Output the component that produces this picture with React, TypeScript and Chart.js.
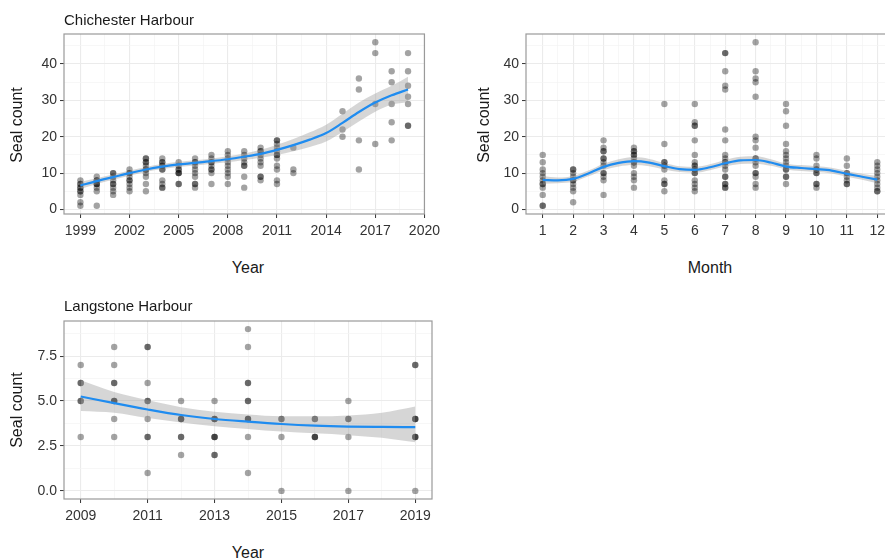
import React, { useEffect, useRef } from "react";
import { Chart, registerables } from "chart.js";
Chart.register(...registerables);

const FONT = "'Liberation Sans', Arial, Helvetica, sans-serif";

// ---------- Chichester Harbour by year ----------
const chiYears = [1999, 2000, 2001, 2002, 2003, 2004, 2005, 2006, 2007, 2008, 2009, 2010, 2011, 2012, 2015, 2016, 2017, 2018, 2019];
const chiCounts = [
  [1, 2, 4, 5, 5, 6, 6, 7, 7, 8],
  [1, 5, 6, 7, 7, 7, 8, 8, 9],
  [4, 5, 6, 7, 7, 8, 9, 10, 10],
  [5, 6, 7, 8, 8, 9, 10, 10, 11],
  [5, 7, 9, 10, 11, 11, 12, 13, 13, 14, 14],
  [6, 6, 7, 8, 11, 11, 12, 12, 13, 13, 14],
  [7, 7, 10, 10, 10, 11, 11, 12, 13],
  [6, 7, 7, 9, 10, 11, 12, 13, 13, 14],
  [7, 10, 11, 11, 12, 13, 13, 14, 15],
  [7, 9, 10, 11, 12, 13, 14, 15, 16],
  [6, 9, 12, 12, 13, 14, 15, 16],
  [8, 9, 9, 12, 13, 14, 15, 16, 16, 17],
  [7, 8, 11, 12, 14, 15, 15, 16, 17, 18, 19, 19],
  [10, 11, 17],
  [20, 22, 27],
  [11, 19, 33, 36],
  [18, 29, 43, 46],
  [19, 24, 29, 35, 38],
  [23, 23, 29, 31, 34, 38, 43],
];
const chiFitX = [1999, 2000, 2001, 2002, 2003, 2004, 2005, 2006, 2007, 2008, 2009, 2010, 2011, 2012, 2013, 2014, 2015, 2016, 2017, 2018, 2019];
const chiFit = [6.6, 7.8, 8.9, 10.0, 11.0, 11.8, 12.4, 12.8, 13.3, 13.8, 14.5, 15.3, 16.4, 17.7, 19.2, 21.0, 23.8, 26.8, 29.4, 31.4, 33.0];
const chiFitLo = [5.6, 7.0, 8.2, 9.3, 10.3, 11.1, 11.7, 12.1, 12.6, 13.0, 13.6, 14.2, 15.0, 16.0, 17.2, 18.7, 21.3, 24.2, 26.9, 28.8, 29.5];
const chiFitHi = [7.6, 8.6, 9.6, 10.7, 11.7, 12.5, 13.1, 13.5, 14.0, 14.6, 15.4, 16.4, 17.8, 19.4, 21.2, 23.3, 26.3, 29.4, 31.9, 34.0, 36.5];
const chiXTicks = [1999, 2002, 2005, 2008, 2011, 2014, 2017, 2020];
const chiXMinor = [2000.5, 2003.5, 2006.5, 2009.5, 2012.5, 2015.5, 2018.5];
const countTicks = [0, 10, 20, 30, 40];
const countMinor = [5, 15, 25, 35, 45];

// ---------- By month ----------
const months = [1, 2, 3, 4, 5, 6, 7, 8, 9, 10, 11, 12];
const monthCounts = [
  [1, 1, 4, 6, 7, 7, 8, 9, 10, 11, 13, 15],
  [2, 5, 6, 7, 8, 8, 9, 10, 11, 11],
  [4, 8, 9, 10, 10, 12, 13, 14, 14, 16, 16, 17, 19],
  [6, 8, 9, 10, 12, 13, 13, 14, 15, 15, 16, 16, 17],
  [5, 7, 7, 8, 11, 12, 12, 13, 13, 18, 29],
  [5, 6, 7, 8, 10, 10, 11, 11, 12, 12, 13, 15, 19, 23, 23, 24, 29],
  [6, 6, 7, 7, 9, 9, 11, 12, 13, 13, 14, 15, 19, 22, 33, 34, 38, 43, 43],
  [6, 7, 9, 10, 10, 12, 13, 14, 14, 17, 19, 20, 31, 35, 36, 38, 46],
  [7, 9, 9, 11, 11, 12, 13, 14, 15, 16, 18, 23, 27, 29],
  [6, 7, 7, 10, 10, 11, 11, 12, 14, 15],
  [7, 7, 8, 9, 10, 10, 12, 14],
  [5, 5, 6, 7, 8, 9, 10, 11, 12, 13],
];
const monthFitX = [1, 1.5, 2, 2.5, 3, 3.5, 4, 4.5, 5, 5.5, 6, 6.5, 7, 7.5, 8, 8.5, 9, 9.5, 10, 10.5, 11, 11.5, 12];
const monthFit = [8.1, 8.0, 8.4, 9.9, 11.7, 12.8, 13.3, 12.9, 11.9, 11.1, 10.9, 11.6, 12.7, 13.5, 13.6, 12.9, 11.8, 11.4, 11.1, 10.7, 9.8, 9.0, 8.2];
const monthFitLo = [7.1, 7.2, 7.6, 9.1, 10.8, 11.8, 12.2, 11.9, 11.0, 10.3, 10.1, 10.8, 11.8, 12.5, 12.6, 12.0, 11.0, 10.6, 10.3, 9.9, 9.0, 8.2, 7.2];
const monthFitHi = [9.1, 8.8, 9.2, 10.7, 12.6, 13.8, 14.4, 13.9, 12.8, 11.9, 11.7, 12.4, 13.6, 14.5, 14.6, 13.8, 12.6, 12.2, 11.9, 11.5, 10.6, 9.8, 9.2];
const monthMinor = [1.5, 2.5, 3.5, 4.5, 5.5, 6.5, 7.5, 8.5, 9.5, 10.5, 11.5, 12.5];

// ---------- Langstone Harbour by year ----------
const lanYears = [2009, 2010, 2011, 2012, 2013, 2014, 2015, 2016, 2017, 2019];
const lanCounts = [
  [3, 5, 5, 6, 6, 7],
  [3, 4, 5, 5, 5, 6, 6, 7, 8],
  [1, 3, 3, 4, 5, 5, 6, 8, 8],
  [2, 3, 3, 4, 4, 4, 5],
  [2, 2, 3, 3, 3, 4, 4, 4, 5],
  [1, 3, 4, 4, 4, 5, 5, 6, 6, 8, 9],
  [0, 3, 4, 4],
  [3, 3, 3, 4, 4],
  [0, 3, 4, 4, 5],
  [0, 3, 3, 3, 4, 4, 4, 7, 7],
];
const lanFitX = [2009, 2010, 2011, 2012, 2013, 2014, 2015, 2016, 2017, 2018, 2019];
const lanFit = [5.25, 4.88, 4.53, 4.22, 4.0, 3.85, 3.72, 3.63, 3.58, 3.56, 3.55];
const lanFitLo = [4.45, 4.35, 4.05, 3.8, 3.6, 3.45, 3.3, 3.2, 3.1, 2.95, 2.7];
const lanFitHi = [6.15, 5.5, 5.05, 4.65, 4.4, 4.25, 4.15, 4.15, 4.2, 4.35, 4.7];
const lanXTicks = [2009, 2011, 2013, 2015, 2017, 2019];
const lanXMinor = [2010, 2012, 2014, 2016, 2018];
const lanYTicks = [0, 2.5, 5, 7.5];
const lanYMinor = [1.25, 3.75, 6.25, 8.75];

type Panel = {
  xs: number[];
  counts: number[][];
  fitX: number[];
  fit: number[];
  lo: number[];
  hi: number[];
  xMin: number;
  xMax: number;
  yMin: number;
  yMax: number;
  xMajor: number[];
  xMinor: number[];
  yMajor: number[];
  yMinor: number[];
  yFmt: (v: number) => string;
  padTop: number;
  padRight: number;
  yw: number;
  xh: number;
};

const isIn = (arr: number[], v: number) => arr.some((a) => Math.abs(a - v) < 1e-6);

const borderPlugin = {
  id: "panelBorder",
  afterDatasetsDraw(chart: any) {
    const { ctx, chartArea } = chart;
    ctx.save();
    ctx.strokeStyle = "#9a9a9a";
    ctx.lineWidth = 1.2;
    ctx.strokeRect(chartArea.left, chartArea.top, chartArea.right - chartArea.left, chartArea.bottom - chartArea.top);
    ctx.restore();
  },
};

function axisOpts(min: number, max: number, major: number[], minor: number[], fmt: (v: number) => string, fit: (s: any) => void, pad: number) {
  const all = [...major, ...minor].filter((v) => v >= min && v <= max).sort((a, b) => a - b);
  return {
    type: "linear",
    min,
    max,
    afterBuildTicks: (scale: any) => {
      scale.ticks = all.map((v) => ({ value: v }));
    },
    afterFit: fit,
    border: { display: false },
    grid: {
      color: (c: any) => (c.tick && isIn(major, c.tick.value) ? "#ebebeb" : "#f4f4f4"),
      lineWidth: (c: any) => (c.tick && isIn(major, c.tick.value) ? 1.1 : 0.7),
      tickColor: (c: any) => (c.tick && isIn(major, c.tick.value) ? "#333333" : "rgba(0,0,0,0)"),
      tickLength: 4,
      tickWidth: 1,
      drawTicks: true,
    },
    ticks: {
      autoSkip: false,
      maxRotation: 0,
      minRotation: 0,
      padding: pad,
      color: "#333333",
      font: { family: FONT, size: 14 },
      callback: (v: number) => (isIn(major, v) ? fmt(v) : ""),
    },
  };
}

function makeChart(canvas: HTMLCanvasElement, p: Panel) {
  const pts: { x: number; y: number }[] = [];
  p.xs.forEach((x, i) => p.counts[i].forEach((y) => pts.push({ x, y })));
  const toXY = (ys: number[]) => p.fitX.map((x, i) => ({ x, y: ys[i] }));
  return new Chart(canvas, {
    type: "scatter",
    data: {
      datasets: [
        {
          type: "line",
          data: toXY(p.fit),
          borderColor: "#1f8cf0",
          borderWidth: 2.2,
          pointRadius: 0,
          fill: false,
          cubicInterpolationMode: "monotone",
          order: 1,
        } as any,
        {
          type: "line",
          data: toXY(p.hi),
          borderWidth: 0,
          borderColor: "rgba(0,0,0,0)",
          backgroundColor: "rgba(153,153,153,0.4)",
          pointRadius: 0,
          fill: "+1",
          cubicInterpolationMode: "monotone",
          order: 2,
        } as any,
        {
          type: "line",
          data: toXY(p.lo),
          borderWidth: 0,
          borderColor: "rgba(0,0,0,0)",
          pointRadius: 0,
          fill: false,
          cubicInterpolationMode: "monotone",
          order: 3,
        } as any,
        {
          type: "scatter",
          data: pts,
          backgroundColor: "rgba(0,0,0,0.36)",
          borderWidth: 0,
          pointRadius: 3.2,
          order: 4,
        } as any,
      ],
    },
    options: {
      responsive: false,
      animation: false,
      events: [],
      layout: { padding: { left: 0, top: p.padTop, right: p.padRight, bottom: 0 } },
      plugins: { legend: { display: false }, tooltip: { enabled: false }, title: { display: false } },
      scales: {
        x: axisOpts(p.xMin, p.xMax, p.xMajor, p.xMinor, (v) => String(v), (s: any) => { s.height = p.xh; }, 5) as any,
        y: axisOpts(p.yMin, p.yMax, p.yMajor, p.yMinor, p.yFmt, (s: any) => { s.width = p.yw; }, 3) as any,
      },
    },
    plugins: [borderPlugin],
  });
}

const panel1: Panel = {
  xs: chiYears, counts: chiCounts, fitX: chiFitX, fit: chiFit, lo: chiFitLo, hi: chiFitHi,
  xMin: 1998, xMax: 2020, yMin: -1.25, yMax: 48.25,
  xMajor: chiXTicks, xMinor: chiXMinor, yMajor: countTicks, yMinor: countMinor,
  yFmt: (v) => String(v), padTop: 34, padRight: 13, yw: 64, xh: 26,
};
const panel2: Panel = {
  xs: months, counts: monthCounts, fitX: monthFitX, fit: monthFit, lo: monthFitLo, hi: monthFitHi,
  xMin: 0.45, xMax: 12.55, yMin: -1.25, yMax: 48.25,
  xMajor: months, xMinor: monthMinor, yMajor: countTicks, yMinor: countMinor,
  yFmt: (v) => String(v), padTop: 34, padRight: 16, yw: 76, xh: 26,
};
const panel3: Panel = {
  xs: lanYears, counts: lanCounts, fitX: lanFitX, fit: lanFit, lo: lanFitLo, hi: lanFitHi,
  xMin: 2008.5, xMax: 2019.5, yMin: -0.45, yMax: 9.45,
  xMajor: lanXTicks, xMinor: lanXMinor, yMajor: lanYTicks, yMinor: lanYMinor,
  yFmt: (v) => v.toFixed(1), padTop: 31, padRight: 13, yw: 64, xh: 31,
};

function Label(props: { text: string; x: number; baseline: number; size: number; align?: "left" | "center" }) {
  const { text, x, baseline, size, align = "left" } = props;
  const top = baseline - size * 0.846;
  const style: React.CSSProperties = {
    position: "absolute",
    top,
    fontSize: size,
    lineHeight: `${size}px`,
    whiteSpace: "nowrap",
    color: "#1a1a1a",
    fontFamily: FONT,
  };
  if (align === "center") {
    style.left = x - 150;
    style.width = 300;
    style.textAlign = "center";
  } else {
    style.left = x;
  }
  return <div style={style}>{text}</div>;
}

function VLabel(props: { text: string; cx: number; cy: number; size: number }) {
  const { text, cx, cy, size } = props;
  return (
    <div
      style={{
        position: "absolute",
        left: cx - 100,
        top: cy - size / 2,
        width: 200,
        height: size,
        lineHeight: `${size}px`,
        fontSize: size,
        textAlign: "center",
        transform: "rotate(-90deg)",
        transformOrigin: "50% 50%",
        whiteSpace: "nowrap",
        color: "#1a1a1a",
        fontFamily: FONT,
      }}
    >
      {text}
    </div>
  );
}

export default function App() {
  const r1 = useRef<HTMLCanvasElement>(null);
  const r2 = useRef<HTMLCanvasElement>(null);
  const r3 = useRef<HTMLCanvasElement>(null);
  useEffect(() => {
    const charts = [makeChart(r1.current!, panel1), makeChart(r2.current!, panel2), makeChart(r3.current!, panel3)];
    return () => charts.forEach((c) => c.destroy());
  }, []);
  return (
    <div style={{ position: "absolute", left: 0, top: 0, width: 885, height: 560, overflow: "hidden", background: "#fff", fontFamily: FONT }}>
      <canvas ref={r1} width={445} height={240} style={{ position: "absolute", left: 0, top: 0 }} />
      <canvas ref={r2} width={460} height={240} style={{ position: "absolute", left: 450, top: 0 }} />
      <canvas ref={r3} width={445} height={240} style={{ position: "absolute", left: 0, top: 290 }} />
      <Label text="Chichester Harbour" x={64} baseline={25} size={15} />
      <Label text="Langstone Harbour" x={64} baseline={310.5} size={15} />
      <VLabel text="Seal count" cx={17} cy={124.5} size={16} />
      <VLabel text="Seal count" cx={483.5} cy={124.5} size={16} />
      <VLabel text="Seal count" cx={17} cy={410} size={16} />
      <Label text="Year" x={248} baseline={274} size={16} align="center" />
      <Label text="Month" x={710} baseline={274} size={16} align="center" />
      <Label text="Year" x={248} baseline={559} size={16} align="center" />
    </div>
  );
}
